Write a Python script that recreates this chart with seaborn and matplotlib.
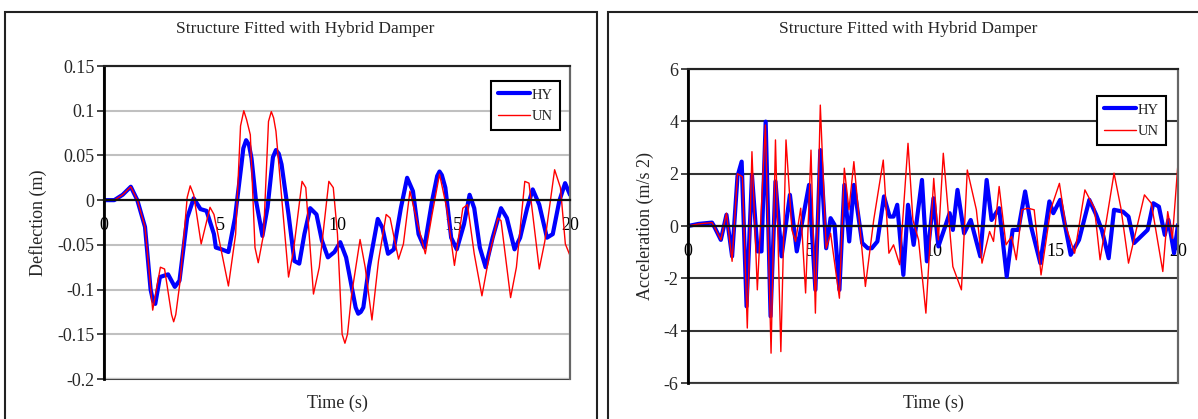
import numpy as np
import pandas as pd
import matplotlib
matplotlib.use("Agg")
import matplotlib.pyplot as plt
from matplotlib.patches import Rectangle
from matplotlib.ticker import FormatStrFormatter
import seaborn as sns

# deflection (m)
t_defl_hy = [0, 0.44, 0.8, 1.15, 1.43, 1.76, 2.0, 2.1, 2.2, 2.4, 2.75, 3.04, 3.24, 3.57, 3.85,
             4.14, 4.4, 4.72, 4.8, 5.05, 5.34, 5.62, 5.9, 5.98, 6.1, 6.22, 6.33, 6.52, 6.8,
             7.02, 7.25, 7.38, 7.5, 7.62, 7.92, 8.17, 8.38, 8.6, 8.85, 9.12, 9.35, 9.61, 9.89,
             10.14, 10.39, 10.63, 10.8, 10.91, 11.02, 11.13, 11.37, 11.75, 11.95, 12.19, 12.44,
             12.74, 13.01, 13.26, 13.5, 13.75, 14.08, 14.3, 14.4, 14.5, 14.65, 14.9, 15.14,
             15.45, 15.69, 15.89, 16.13, 16.38, 16.68, 17.04, 17.29, 17.62, 17.86, 18.16, 18.4,
             18.68, 19.01, 19.26, 19.54, 19.79, 20]
defl_hy = [0, 0, 0.006, 0.015, 0, -0.03, -0.1, -0.112, -0.116, -0.086, -0.083, -0.097, -0.09,
           -0.02, 0.002, -0.01, -0.012, -0.038, -0.053, -0.055, -0.058, -0.02, 0.04, 0.058,
           0.067, 0.062, 0.047, 0, -0.04, -0.008, 0.048, 0.056, 0.052, 0.04, -0.016, -0.068,
           -0.071, -0.038, -0.009, -0.016, -0.045, -0.064, -0.058, -0.047, -0.064, -0.097,
           -0.12, -0.127, -0.125, -0.12, -0.075, -0.021, -0.031, -0.06, -0.055, -0.009, 0.025,
           0.01, -0.038, -0.053, -0.001, 0.027, 0.032, 0.028, 0.014, -0.042, -0.055, -0.027,
           0.006, -0.009, -0.053, -0.075, -0.042, -0.009, -0.02, -0.055, -0.042, -0.009, 0.012,
           -0.005, -0.042, -0.038, -0.001, 0.019, 0.006]

t_defl_un = [0, 0.44, 0.8, 1.15, 1.43, 1.76, 2.09, 2.42, 2.6, 2.9, 2.99, 3.08, 3.27, 3.57, 3.7,
             3.85, 4.17, 4.55, 4.72, 5.34, 5.65, 5.86, 6.0, 6.12, 6.28, 6.48, 6.62, 6.85, 7.06,
             7.18, 7.28, 7.38, 7.92, 8.13, 8.5, 8.66, 8.99, 9.24, 9.65, 9.84, 10.02, 10.22,
             10.34, 10.45, 10.63, 10.99, 11.21, 11.5, 11.78, 12.11, 12.28, 12.64, 12.85, 13.13,
             13.43, 13.79, 14.08, 14.4, 14.71, 15.04, 15.4, 15.6, 15.89, 16.22, 16.55, 16.91,
             17.04, 17.45, 17.7, 18.06, 18.24, 18.68, 18.92, 19.34, 19.59, 19.8, 20]
defl_un = [0, 0, 0.006, 0.015, 0, -0.03, -0.123, -0.075, -0.077, -0.128, -0.136, -0.128, -0.09,
           0.003, 0.016, 0.006, -0.049, -0.008, -0.016, -0.096, -0.038, 0.083, 0.1, 0.09, 0.073,
           -0.053, -0.07, -0.038, 0.088, 0.099, 0.092, 0.077, -0.086, -0.057, 0.021, 0.014,
           -0.105, -0.075, 0.021, 0.014, -0.038, -0.15, -0.16, -0.15, -0.105, -0.044, -0.075,
           -0.134, -0.068, -0.016, -0.02, -0.066, -0.049, 0.01, -0.023, -0.06, -0.016, 0.029,
           -0.009, -0.073, -0.009, -0.005, -0.06, -0.107, -0.06, -0.02, -0.023, -0.109, -0.075,
           0.021, 0.019, -0.077, -0.046, 0.034, 0.014, -0.049, -0.062]

# acceleration (m/s2)
t_acc_hy = [0, 0.43, 0.98, 1.06, 1.34, 1.57, 1.8, 2.02, 2.19, 2.39, 2.61, 2.84, 3.0, 3.17, 3.37,
            3.57, 3.82, 4.16, 4.44, 4.63, 4.94, 5.2, 5.4, 5.64, 5.82, 5.98, 6.18, 6.38, 6.58,
            6.77, 7.11, 7.34, 7.5, 7.73, 8.0, 8.23, 8.39, 8.54, 8.79, 8.98, 9.21, 9.55, 9.75,
            10.02, 10.22, 10.68, 10.81, 11.0, 11.27, 11.54, 11.93, 12.19, 12.39, 12.7, 13.01,
            13.25, 13.48, 13.76, 14.02, 14.38, 14.75, 14.91, 15.19, 15.62, 15.96, 16.38, 16.66,
            16.89, 17.17, 17.39, 17.75, 17.98, 18.21, 18.76, 18.99, 19.22, 19.46, 19.61, 19.84, 20]
acc_hy = [0, 0.08, 0.13, 0, -0.53, 0.43, -1.16, 1.9, 2.46, -3.07, 1.95, -0.97, -0.97, 3.99,
          -3.45, 1.7, -1.16, 1.19, -0.97, 0, 1.57, -2.44, 2.9, -0.85, 0.3, 0.05, -2.44, 1.57,
          -0.59, 1.57, -0.65, -0.85, -0.85, -0.59, 1.13, 0.36, 0.36, 0.81, -1.87, 0.81, -0.72,
          1.76, -1.35, 1.06, -0.78, 0.49, -0.15, 1.38, -0.28, 0.23, -1.16, 1.76, 0.23, 0.68,
          -1.93, -0.15, -0.15, 1.32, -0.08, -1.42, 0.94, 0.49, 1.0, -1.1, -0.53, 1.0, 0.43,
          -0.15, -1.23, 0.62, 0.55, 0.36, -0.65, -0.15, 0.87, 0.74, -0.34, 0.23, -1.04, 0.05]

t_acc_un = [0, 0.43, 0.98, 1.06, 1.34, 1.57, 1.8, 2.02, 2.22, 2.42, 2.61, 2.83, 3.16, 3.39,
            3.57, 3.79, 4.0, 4.24, 4.39, 4.6, 4.8, 5.02, 5.2, 5.4, 5.64, 5.82, 6.18, 6.38, 6.57,
            6.77, 7.24, 7.58, 7.97, 8.2, 8.39, 8.64, 8.98, 9.18, 9.41, 9.71, 10.03, 10.22, 10.42,
            10.81, 11.16, 11.4, 11.77, 12.0, 12.31, 12.47, 12.7, 12.98, 13.21, 13.4, 13.63,
            13.87, 14.13, 14.41, 14.8, 15.16, 15.42, 15.78, 16.2, 16.59, 16.82, 17.39, 17.67,
            17.98, 18.63, 18.91, 19.38, 19.58, 19.77, 20]
acc_un = [0, 0.08, 0.13, 0, -0.53, 0.49, -1.35, 2.0, 1.88, -3.9, 2.84, -2.44, 3.86, -4.86,
          3.29, -4.8, 3.29, -0.15, -0.59, 0.68, -2.56, 2.9, -3.33, 4.62, -0.85, -0.28, -2.76,
          2.21, 0.62, 2.46, -2.31, 0.23, 2.52, -1.04, -0.72, -1.48, 3.16, 0.23, -0.53, -3.33,
          1.82, -0.53, 2.78, -1.55, -2.44, 2.14, 0.62, -1.42, -0.21, -0.59, 1.51, -0.72, -0.4,
          -1.29, 0.62, 0.68, 0.62, -1.87, 0.62, 1.63, 0, -1.04, 1.38, 0.68, -1.29, 2.02, 0.68,
          -1.42, 1.19, 0.87, -1.74, 0.55, -0.47, 2.4]

title = "Structure Fitted with Hybrid Damper"
x_ticks = [0, 5, 10, 15, 20]
defl_ticks = [-0.2, -0.15, -0.1, -0.05, 0, 0.05, 0.1, 0.15]
acc_ticks = [-6, -4, -2, 0, 2, 4, 6]

sns.set_style("white")
plt.rcParams["font.family"] = ["Liberation Serif", "DejaVu Serif"]
plt.rcParams["axes.unicode_minus"] = False

W, H = 1198, 419
fig = plt.figure(figsize=(W / 100, H / 100), dpi=100)

# panel frames
fig.add_artist(Rectangle((5 / W, -0.02), 592 / W, 1 - 12 / H + 0.02, transform=fig.transFigure,
                         fill=False, edgecolor="#222222", linewidth=1.5))
fig.add_artist(Rectangle((608 / W, -0.02), 600 / W, 1 - 12 / H + 0.02, transform=fig.transFigure,
                         fill=False, edgecolor="#222222", linewidth=1.5))


def make_axes(px_left, px_right, px_top, px_bottom):
    return fig.add_axes([px_left / W, 1 - px_bottom / H, (px_right - px_left) / W,
                         (px_bottom - px_top) / H])


def style(ax, yticks, grid_color, ylabel, title_x, title_y, xlabel_y):
    ax.set_xlim(0, 20)
    ax.set_ylim(yticks[0], yticks[-1])
    ax.set_xticks(x_ticks)
    ax.set_yticks(yticks)
    ax.yaxis.set_major_formatter(FormatStrFormatter("%g"))
    ax.xaxis.set_major_formatter(FormatStrFormatter("%g"))
    ax.grid(axis="y", color=grid_color, linewidth=1.5)
    ax.grid(axis="x", visible=False)
    ax.set_axisbelow(True)
    ax.spines["bottom"].set_position(("data", 0))
    ax.spines["bottom"].set_color("#111111")
    ax.spines["bottom"].set_linewidth(1.6)
    ax.spines["left"].set_color("black")
    ax.spines["left"].set_linewidth(2)
    ax.spines["top"].set_color("#222222")
    ax.spines["top"].set_linewidth(1.5)
    ax.spines["right"].set_color("#666666")
    ax.spines["right"].set_linewidth(1.5)
    ax.add_patch(Rectangle((0, 0), 1, 1, transform=ax.transAxes, fill=False,
                           edgecolor="#444444", linewidth=1.5, clip_on=False, zorder=0.5))
    ax.tick_params(axis="x", direction="in", length=5, width=1.2, pad=12, labelsize=13,
                   colors="black")
    ax.tick_params(axis="y", direction="out", length=5, width=1.2, pad=2, labelsize=13,
                   left=True)
    ax.set_ylabel(ylabel, fontsize=13, labelpad=7)
    ax.set_xlabel("Time (s)", fontsize=13)
    ax.xaxis.set_label_coords(0.5, xlabel_y)
    ax.set_title(title, fontsize=12.5, x=title_x, y=title_y, va="center")


def draw(ax, t_hy, v_hy, t_un, v_un, legend_anchor):
    sns.lineplot(x=t_hy, y=v_hy, ax=ax, color="#0000FF", linewidth=3, label="HY",
                 solid_joinstyle="round", solid_capstyle="round")
    sns.lineplot(x=t_un, y=v_un, ax=ax, color="#FF0000", linewidth=1, label="UN",
                 solid_joinstyle="round")
    leg = ax.legend(loc="upper right", bbox_to_anchor=legend_anchor, frameon=True, fancybox=False,
                    edgecolor="black", framealpha=1, fontsize=10.5, handlelength=2.2,
                    handletextpad=0.1, borderpad=0.5, labelspacing=0.55, borderaxespad=0)
    leg.get_frame().set_linewidth(1.5)


ax1 = make_axes(104, 570, 66, 379)
draw(ax1, t_defl_hy, defl_hy, t_defl_un, defl_un, ((560 - 104) / 466, 1 - (81 - 66) / 313))
style(ax1, defl_ticks, "#c0c0c0", "Deflection (m)", 0.431, 1.093, -0.05)

ax2 = make_axes(688, 1178, 69, 383)
draw(ax2, t_acc_hy, acc_hy, t_acc_un, acc_un, ((1166 - 688) / 490, 1 - (96 - 69) / 314))
style(ax2, acc_ticks, "#333333", "Acceleration (m/s 2)", 0.449, 1.102, -0.038)

fig.savefig("out.png", dpi=100)
